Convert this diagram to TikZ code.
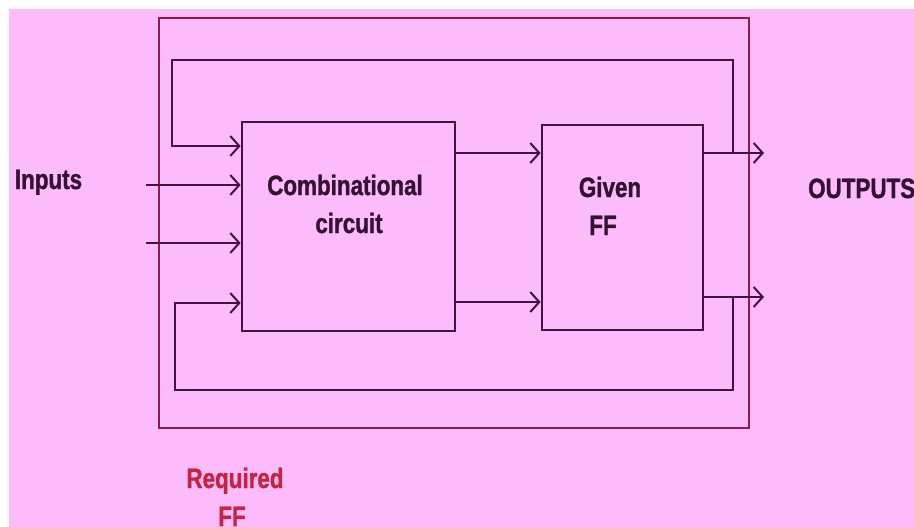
\documentclass[tikz,border=0pt]{standalone}
\usepackage{fontspec}
\setmainfont{Liberation Sans}
\newfontfamily\nf[FakeStretch=0.8,FakeBold=1.2]{Liberation Sans}
\usetikzlibrary{arrows.meta}
\definecolor{bgpink}{RGB}{252,187,250}
\definecolor{ln}{RGB}{68,18,64}
\definecolor{outerred}{RGB}{140,26,74}
\definecolor{reqred}{RGB}{196,36,66}
\definecolor{txt}{RGB}{52,18,50}
\tikzset{
  blk/.style={draw=ln, line width=2.8pt, rectangle, inner sep=0pt},
  wire/.style={draw=ln, line width=2.8pt},
  arr/.style={wire, -{Straight Barb[length=9pt,width=20pt,line width=2pt]}},
  lbl/.style={text=txt, font=\nf\bfseries\fontsize{28}{38}\selectfont, inner sep=0pt},
}
\begin{document}
\begin{tikzpicture}[x=1pt,y=-1pt]
\useasboundingbox (0,0) rectangle (914,527);
\fill[white] (-5,-5) rectangle (920,532);
\fill[bgpink] (9,9) rectangle (920,532);
% outer box (required FF)
\node[draw=outerred, line width=2.8pt, rectangle, inner sep=0pt, minimum width=590pt, minimum height=410pt] (outer) at (454,223) {};
% blocks
\node[blk, minimum width=213pt, minimum height=209pt] (comb) at (348.5,226.5) {};
\node[blk, minimum width=161pt, minimum height=205pt] (ff) at (622.5,227.5) {};
% coordinates
\coordinate (in1) at (146,185);
\coordinate (in2) at (146,243);
\coordinate (j1) at (733,153);
\coordinate (j2) at (733,297);
\coordinate (tl) at (172,60);
\coordinate (tr) at (733,60);
\coordinate (fbt) at (172,146);
\coordinate (bl) at (175,390);
\coordinate (br) at (733,390);
\coordinate (fbb) at (175,303);
\coordinate (c1) at (455,153);
\coordinate (c2) at (455,302);
\coordinate (o1) at (764,153);
\coordinate (o2) at (764,297);
% inputs
\draw[arr] (in1) -- (in1 -| comb.west);
\draw[arr] (in2) -- (in2 -| comb.west);
% feedback top
\draw[arr] (j1) -- (tr) -- (tl) -- (fbt) -- (fbt -| comb.west);
% feedback bottom
\draw[arr] (j2) -- (br) -- (bl) -- (fbb) -- (fbb -| comb.west);
% comb -> ff
\draw[arr] (c1) -- (c1 -| ff.west);
\draw[arr] (c2) -- (c2 -| ff.west);
% outputs
\draw[arr] (o1 -| ff.east) -- (o1);
\draw[arr] (o2 -| ff.east) -- (o2);
% labels
\node[lbl, anchor=base] (tin) at (48.5,189) {Inputs};
\node[lbl, anchor=base] (tc1) at (345,195) {Combinational};
\node[lbl, anchor=base] (tc2) at (349,233) {circuit};
\node[lbl, anchor=base] (tg1) at (610,197) {Given};
\node[lbl, anchor=base] (tg2) at (603,235) {FF};
\node[lbl, anchor=base west] (tout) at (808,198) {OUTPUTS};
\node[lbl, anchor=base, text=reqred] (tr1) at (235,488) {Required};
\node[lbl, anchor=base, text=reqred] (tr2) at (232,526) {FF};
\end{tikzpicture}
\end{document}
